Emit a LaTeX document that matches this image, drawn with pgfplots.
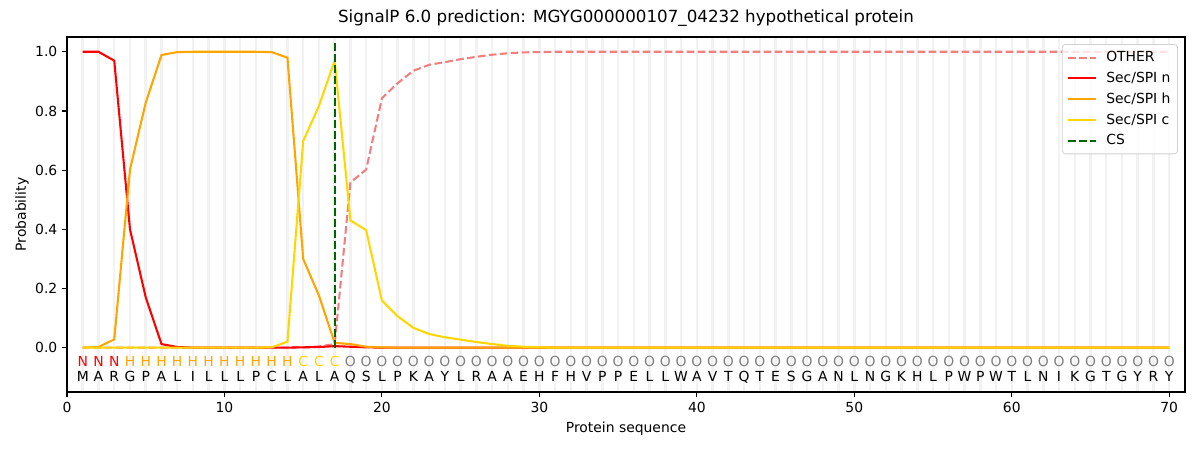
\documentclass[border=0pt]{standalone}
\usepackage{pgfplots}
\pgfplotsset{compat=1.18}
\usepackage{fontspec}
\setmainfont{DejaVu Sans}
\definecolor{cother}{HTML}{F08080}
\definecolor{cn}{HTML}{FF0000}
\definecolor{ch}{HTML}{FFA500}
\definecolor{cc}{HTML}{FFD700}
\definecolor{ccs}{HTML}{006400}
\definecolor{cgrid}{HTML}{F2F2F2}
\definecolor{co}{HTML}{808080}
\begin{document}
\fontsize{13.9bp}{16bp}\selectfont
\begin{tikzpicture}
\useasboundingbox (0,0) rectangle (1200bp,450bp);
\begin{axis}[
  at={(67bp,58bp)}, anchor=south west,
  scale only axis, width=1118bp, height=355bp,
  xmin=0, xmax=71, ymin=-0.15, ymax=1.05,
  xtick={0,10,...,70}, minor xtick={1,2,...,70},
  ytick={0,0.2,0.4,0.6,0.8,1.0},
  yticklabel style={/pgf/number format/.cd, fixed, fixed zerofill, precision=1},
  /pgf/number format/assume math mode=true,
  tick align=outside, tick pos=left,
  major tick length=4.9bp, minor tick length=0bp,
  every tick/.style={black, line width=1.1bp},
  xminorgrids=true,
  minor grid style={cgrid, line width=2.5bp},
  axis line style={line width=1.1bp},
  every tick label/.append style={font=\fontsize{13.9bp}{16bp}\selectfont},
  title={SignalP 6.0 prediction: MGYG000000107\_04232 hypothetical protein},
  title style={at={(0.5,1)}, anchor=base, yshift=8.3bp, inner sep=0pt, font=\fontsize{16.7bp}{20bp}\selectfont},
  xlabel={Protein sequence},
  xlabel style={at={(0.5,0)}, anchor=base, yshift=-40bp, inner sep=0pt},
  ylabel={Probability},
  every axis y label/.style={at={(axis description cs:0,0.5)}, xshift=-45bp, rotate=90, anchor=center, inner sep=0pt},
  legend cell align=left,
  legend style={at={(rel axis cs:0.9937,0.98)}, anchor=north east, draw=black!18, rounded corners=3bp,
    fill=white, fill opacity=0.8, text opacity=1, line width=0.8bp,
    font=\fontsize{13.9bp}{16bp}\selectfont, row sep=4.3bp, column sep=7bp, inner xsep=5bp, inner ysep=5bp},
  legend image code/.code={\draw[#1] (0bp,0bp) -- (28bp,0bp);},
]
\addplot[cother, line width=2.08bp, dash pattern=on 7.7bp off 3.3bp] coordinates {
(1,0) (2,0) (3,0) (4,0) (5,0) (6,0) (7,0) (8,0) (9,0) (10,0) (11,0) (12,0) (13,0) (14,0)
(15,0.001) (16,0.004) (17,0.012) (18,0.558) (19,0.602) (20,0.843) (21,0.894) (22,0.936)
(23,0.956) (24,0.965) (25,0.975) (26,0.983) (27,0.99) (28,0.995) (29,0.998) (30,0.999)
(31,1) (32,1) (33,1) (34,1) (35,1) (36,1) (37,1) (38,1) (39,1) (40,1) (41,1) (42,1) (43,1)
(44,1) (45,1) (46,1) (47,1) (48,1) (49,1) (50,1) (51,1) (52,1) (53,1) (54,1) (55,1) (56,1)
(57,1) (58,1) (59,1) (60,1) (61,1) (62,1) (63,1) (64,1) (65,1) (66,1) (67,1) (68,1) (69,1) (70,1)};
\addlegendentry{OTHER}
\addplot[cn, line width=2.08bp] coordinates {
(1,1.0) (2,1.0) (3,0.97) (4,0.40) (5,0.17) (6,0.012) (7,0.002) (8,0) (9,0) (10,0) (11,0)
(12,0) (13,0) (14,0) (15,0.001) (16,0.002) (17,0.005) (18,0.003) (19,0.001) (20,0)
(21,0) (22,0) (23,0) (24,0) (25,0) (26,0) (27,0) (28,0) (29,0) (30,0) (31,0) (32,0) (33,0)
(34,0) (35,0) (36,0) (37,0) (38,0) (39,0) (40,0) (41,0) (42,0) (43,0) (44,0) (45,0) (46,0)
(47,0) (48,0) (49,0) (50,0) (51,0) (52,0) (53,0) (54,0) (55,0) (56,0) (57,0) (58,0) (59,0)
(60,0) (61,0) (62,0) (63,0) (64,0) (65,0) (66,0) (67,0) (68,0) (69,0) (70,0)};
\addlegendentry{Sec/SPI n}
\addplot[ch, line width=2.08bp] coordinates {
(1,0) (2,0.002) (3,0.028) (4,0.602) (5,0.828) (6,0.989) (7,0.999) (8,1.0) (9,1.0) (10,1.0)
(11,1.0) (12,1.0) (13,0.999) (14,0.98) (15,0.30) (16,0.176) (17,0.016) (18,0.012)
(19,0.003) (20,0.001) (21,0) (22,0) (23,0) (24,0) (25,0) (26,0) (27,0) (28,0) (29,0) (30,0)
(31,0) (32,0) (33,0) (34,0) (35,0) (36,0) (37,0) (38,0) (39,0) (40,0) (41,0) (42,0) (43,0)
(44,0) (45,0) (46,0) (47,0) (48,0) (49,0) (50,0) (51,0) (52,0) (53,0) (54,0) (55,0) (56,0)
(57,0) (58,0) (59,0) (60,0) (61,0) (62,0) (63,0) (64,0) (65,0) (66,0) (67,0) (68,0) (69,0) (70,0)};
\addlegendentry{Sec/SPI h}
\addplot[cc, line width=2.08bp] coordinates {
(1,0) (2,0) (3,0) (4,0) (5,0) (6,0) (7,0) (8,0) (9,0) (10,0) (11,0) (12,0) (13,0.001)
(14,0.02) (15,0.698) (16,0.817) (17,0.97) (18,0.43) (19,0.397) (20,0.159) (21,0.106)
(22,0.067) (23,0.046) (24,0.035) (25,0.027) (26,0.019) (27,0.012) (28,0.006) (29,0.003)
(30,0.001) (31,0) (32,0) (33,0) (34,0) (35,0) (36,0) (37,0) (38,0) (39,0) (40,0) (41,0)
(42,0) (43,0) (44,0) (45,0) (46,0) (47,0) (48,0) (49,0) (50,0) (51,0) (52,0) (53,0) (54,0)
(55,0) (56,0) (57,0) (58,0) (59,0) (60,0) (61,0) (62,0) (63,0) (64,0) (65,0) (66,0) (67,0)
(68,0) (69,0) (70,0)};
\addlegendentry{Sec/SPI c}
\addplot[ccs, line width=2.08bp, dash pattern=on 7.7bp off 3.3bp] coordinates {(17,0) (17,1.04)};
\addlegendentry{CS}
% region labels
\addplot[forget plot, draw=none, nodes near coords, point meta=explicit symbolic, nodes near coords align={center},
  every node near coord/.append style={text=cn, inner sep=0pt, text height=10bp, text depth=0bp}]
  table[x=x, y expr=-0.0475, meta=l] {
x l
1 N
2 N
3 N
};
\addplot[forget plot, draw=none, nodes near coords, point meta=explicit symbolic, nodes near coords align={center},
  every node near coord/.append style={text=ch, inner sep=0pt, text height=10bp, text depth=0bp}]
  table[x=x, y expr=-0.0475, meta=l] {
x l
4 H
5 H
6 H
7 H
8 H
9 H
10 H
11 H
12 H
13 H
14 H
};
\addplot[forget plot, draw=none, nodes near coords, point meta=explicit symbolic, nodes near coords align={center},
  every node near coord/.append style={text=cc, inner sep=0pt, text height=10bp, text depth=0bp}]
  table[x=x, y expr=-0.0475, meta=l] {
x l
15 C
16 C
17 C
};
\addplot[forget plot, draw=none, nodes near coords, point meta=explicit symbolic, nodes near coords align={center},
  every node near coord/.append style={text=co, inner sep=0pt, text height=10bp, text depth=0bp}]
  table[x=x, y expr=-0.0475, meta=l] {
x l
18 O
19 O
20 O
21 O
22 O
23 O
24 O
25 O
26 O
27 O
28 O
29 O
30 O
31 O
32 O
33 O
34 O
35 O
36 O
37 O
38 O
39 O
40 O
41 O
42 O
43 O
44 O
45 O
46 O
47 O
48 O
49 O
50 O
51 O
52 O
53 O
54 O
55 O
56 O
57 O
58 O
59 O
60 O
61 O
62 O
63 O
64 O
65 O
66 O
67 O
68 O
69 O
70 O
};
% sequence
\addplot[forget plot, draw=none, nodes near coords, point meta=explicit symbolic, nodes near coords align={center},
  every node near coord/.append style={text=black, inner sep=0pt, text height=10bp, text depth=0bp}]
  table[x=x, y expr=-0.0973, meta=l] {
x l
1 M
2 A
3 R
4 G
5 P
6 A
7 L
8 I
9 L
10 L
11 L
12 P
13 C
14 L
15 A
16 L
17 A
18 Q
19 S
20 L
21 P
22 K
23 A
24 Y
25 L
26 R
27 A
28 A
29 E
30 H
31 F
32 H
33 V
34 P
35 P
36 E
37 L
38 L
39 W
40 A
41 V
42 T
43 Q
44 T
45 E
46 S
47 G
48 A
49 N
50 L
51 N
52 G
53 K
54 H
55 L
56 P
57 W
58 P
59 W
60 T
61 L
62 N
63 I
64 K
65 G
66 T
67 G
68 Y
69 R
70 Y
};
\end{axis}
\end{tikzpicture}
\end{document}
